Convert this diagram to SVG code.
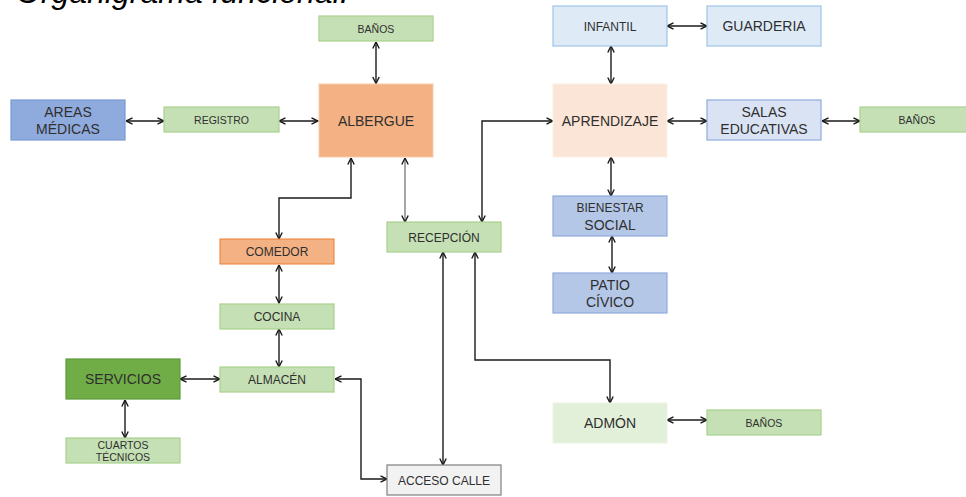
<svg xmlns="http://www.w3.org/2000/svg" width="966" height="497" viewBox="0 0 966 497">
<style>
text{font-family:"Liberation Sans",Arial,sans-serif;fill:#2f2f2f;text-anchor:middle}
.t{font-size:32px;font-style:italic;fill:#000;text-anchor:start}
.l{font-size:14px}
.m{font-size:12px}
.s{font-size:10.5px}
.g{fill:#C5E0B4;stroke:#A9D18E;stroke-width:1.2}
.o{fill:#F4B183;stroke:#F8CBAD;stroke-width:1}
.oc{fill:#F4B183;stroke:#ED7D31;stroke-width:1}
.lb{fill:#DEEBF7;stroke:#9DC3E6;stroke-width:1.2}
.sb{fill:#DAE3F3;stroke:#8FAADC;stroke-width:1.2}
.mb{fill:#B4C7E7;stroke:#8FAADC;stroke-width:1.2}
.db{fill:#8FAADC;stroke:#7A9AD6;stroke-width:1.2}
.dg{fill:#70AD47;stroke:#5E9A3A;stroke-width:1.2}
.lo{fill:#FBE5D6;stroke:#FCEFE6;stroke-width:1}
.lg{fill:#E2F0D9;stroke:#EAF4E3;stroke-width:1}
.gr{fill:#F2F2F2;stroke:#7F7F7F;stroke-width:1.2}
#connectors path{fill:none;stroke:#1a1a1a;stroke-width:1.4;marker-start:url(#ah);marker-end:url(#ah)}
#connectors path.gy{stroke:#7f7f7f}
</style>
<defs>
<marker id="ah" viewBox="0 0 8 8" refX="7.5" refY="4" markerWidth="8" markerHeight="8" markerUnits="userSpaceOnUse" orient="auto-start-reverse">
<path d="M1,0.8 L7.5,4 L1,7.2" fill="none" stroke="#1a1a1a" stroke-width="1.4"/>
</marker>
</defs>
<rect width="966" height="497" fill="#fff"/>
<text class="t" x="16" y="3">Organigrama funcional.</text>

<g id="connectors">
<path d="M376,42 V83.5"/>
<path d="M126,121 H164"/>
<path d="M279,121 H318"/>
<path d="M351,158 V198 H279 V239"/>
<path class="gy" d="M405,158 V222"/>
<path d="M482,222 V121 H553"/>
<path d="M667,26 H707"/>
<path d="M611,46 V84"/>
<path d="M667,121 H707"/>
<path d="M822,121 H860"/>
<path d="M611,157 V196"/>
<path d="M612,236 V273"/>
<path d="M279,265 V303"/>
<path d="M279,329 V367"/>
<path d="M180,379 H220"/>
<path d="M125,400 V438"/>
<path d="M335,379 H361 V479 H387"/>
<path d="M443,252 V465"/>
<path d="M475,252 V360 H610 V403"/>
<path d="M667,420 H707"/>
</g>

<g id="banos-top"><rect class="g" x="319" y="16" width="114" height="25"/><text class="s" x="376" y="32.5">BAÑOS</text></g>
<g id="albergue"><rect class="o" x="319" y="84" width="114" height="73"/><text class="l" x="376" y="126">ALBERGUE</text></g>
<g id="areas-medicas"><rect class="db" x="11" y="100" width="114" height="40"/><text class="l" x="68" y="117">AREAS</text><text class="l" x="68" y="134">MÉDICAS</text></g>
<g id="registro"><rect class="g" x="164" y="107" width="115" height="25"/><text class="s" x="221.5" y="123.5">REGISTRO</text></g>
<g id="infantil"><rect class="lb" x="553" y="6" width="114" height="40"/><text class="m" x="610" y="30.5">INFANTIL</text></g>
<g id="guarderia"><rect class="lb" x="707" y="6" width="114" height="40"/><text class="l" x="764" y="31">GUARDERIA</text></g>
<g id="aprendizaje"><rect class="lo" x="553" y="84" width="114" height="73"/><text class="l" x="610" y="126">APRENDIZAJE</text></g>
<g id="salas"><rect class="sb" x="707" y="100" width="114" height="40"/><text class="l" x="764" y="117">SALAS</text><text class="l" x="764" y="134">EDUCATIVAS</text></g>
<g id="banos-salas"><rect class="g" x="860" y="107" width="114" height="25"/><text class="s" x="917" y="123.5">BAÑOS</text></g>
<g id="comedor"><rect class="oc" x="220" y="239" width="114" height="25"/><text class="m" x="277" y="256">COMEDOR</text></g>
<g id="recepcion"><rect class="g" x="387" y="222" width="114" height="30"/><text class="m" x="444" y="241.5">RECEPCIÓN</text></g>
<g id="bienestar"><rect class="mb" x="553" y="196" width="114" height="40"/><text class="m" x="610" y="212">BIENESTAR</text><text class="l" x="610" y="230">SOCIAL</text></g>
<g id="patio"><rect class="mb" x="553" y="273" width="114" height="40"/><text class="l" x="610" y="290">PATIO</text><text class="l" x="610" y="307">CÍVICO</text></g>
<g id="cocina"><rect class="g" x="220" y="304" width="114" height="25"/><text class="m" x="277" y="320.5">COCINA</text></g>
<g id="almacen"><rect class="g" x="220" y="367" width="114" height="25"/><text class="m" x="277" y="383.5">ALMACÉN</text></g>
<g id="servicios"><rect class="dg" x="66" y="359" width="114" height="40"/><text class="l" x="123" y="384">SERVICIOS</text></g>
<g id="cuartos"><rect class="g" x="66" y="438" width="114" height="25"/><text class="s" x="123" y="449">CUARTOS</text><text class="s" x="123" y="461">TÉCNICOS</text></g>
<g id="admon"><rect class="lg" x="553" y="403" width="114" height="40"/><text class="l" x="610" y="428">ADMÓN</text></g>
<g id="banos-admon"><rect class="g" x="707" y="410" width="114" height="25"/><text class="s" x="764" y="426.5">BAÑOS</text></g>
<g id="acceso"><rect class="gr" x="387" y="465" width="114" height="30"/><text class="m" x="444" y="484.5">ACCESO CALLE</text></g>
</svg>
